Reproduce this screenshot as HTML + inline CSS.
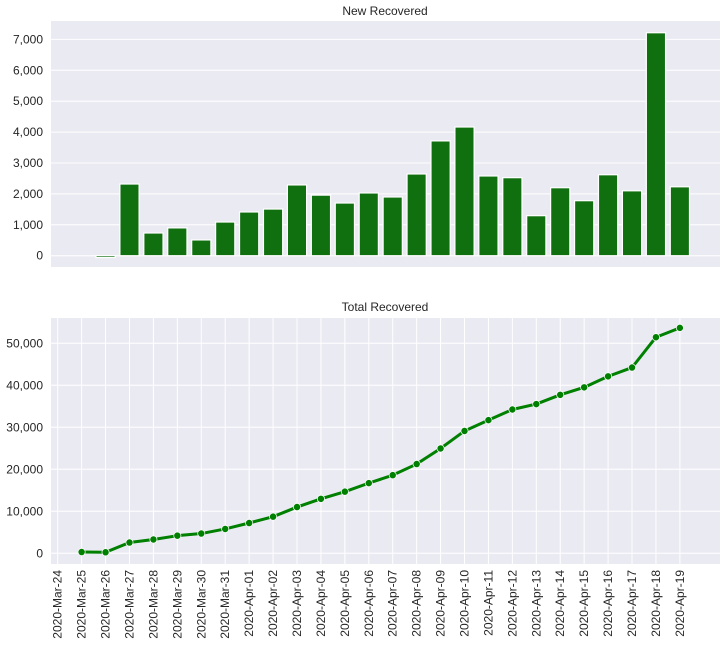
<!DOCTYPE html>
<html><head><meta charset="utf-8"><style>
body{margin:0;background:#fff;font-family:"Liberation Sans",Arial,sans-serif}
svg text{font-family:"Liberation Sans",Arial,sans-serif;fill:#262626}
</style></head><body>
<svg id="c" width="727" height="644" xmlns="http://www.w3.org/2000/svg"></svg>
<script>
const dates=["2020-Mar-24","2020-Mar-25","2020-Mar-26","2020-Mar-27","2020-Mar-28","2020-Mar-29","2020-Mar-30","2020-Mar-31","2020-Apr-01","2020-Apr-02","2020-Apr-03","2020-Apr-04","2020-Apr-05","2020-Apr-06","2020-Apr-07","2020-Apr-08","2020-Apr-09","2020-Apr-10","2020-Apr-11","2020-Apr-12","2020-Apr-13","2020-Apr-14","2020-Apr-15","2020-Apr-16","2020-Apr-17","2020-Apr-18","2020-Apr-19"];
const newRecovered=[null,null,-60,2320,735,900,510,1090,1415,1510,2290,1960,1705,2030,1900,2645,3715,4165,2580,2525,1295,2200,1780,2620,2100,7215,2230];
const totalRecovered=[null,300,240,2560,3295,4195,4705,5795,7210,8720,11010,12970,14675,16705,18605,21250,24965,29130,31710,34235,35530,37730,39510,42130,44230,51445,53675];
const newTicks=[0,1000,2000,3000,4000,5000,6000,7000];
const totalTicks=[0,10000,20000,30000,40000,50000];

const svg=document.getElementById('c');const NS='http://www.w3.org/2000/svg';
function mk(t,a,p){const e=document.createElementNS(NS,t);for(const k in a)e.setAttribute(k,a[k]);(p||svg).appendChild(e);return e;}
const L=51,R=720;
const x=i=>57.7+i*23.93;
const yTop=v=>255.7-v*0.03090;
const yBot=v=>553.3-v*0.0042;
const fmt=v=>v.toLocaleString('en-US');

// top panel
const g1=mk('g',{});


mk('rect',{x:L,y:21,width:R-L,height:246,fill:'#eaeaf2'},g1);
newTicks.forEach(v=>{
  mk('line',{x1:L,x2:R,y1:yTop(v),y2:yTop(v),stroke:'#fff','stroke-width':1},g1);
  const t=mk('text',{x:L-8,y:yTop(v)+4,'text-anchor':'end','font-size':12},g1);t.textContent=fmt(v);
  
  
});
newRecovered.forEach((v,i)=>{
  if(v===null)return;
  const y0=yTop(0),y1=yTop(v);
  const r=mk('rect',{x:x(i)-9.6,y:Math.min(y0,y1),width:19.2,height:Math.max(Math.abs(y1-y0),0.5),fill:'#107010',stroke:'#fff','stroke-width':1.2},g1);
  
  
});
const t1=mk('text',{x:385,y:15,'text-anchor':'middle','font-size':12},g1);t1.textContent='New Recovered';



// bottom panel
const g2=mk('g',{});


mk('rect',{x:L,y:318,width:R-L,height:246,fill:'#eaeaf2'},g2);
totalTicks.forEach(v=>{
  mk('line',{x1:L,x2:R,y1:yBot(v),y2:yBot(v),stroke:'#fff','stroke-width':1},g2);
  const t=mk('text',{x:L-8,y:yBot(v)+4,'text-anchor':'end','font-size':12},g2);t.textContent=fmt(v);
  
  
});
dates.forEach((d,i)=>{
  mk('line',{x1:x(i),x2:x(i),y1:318,y2:564,stroke:'#fff','stroke-width':1},g2);
  const t=mk('text',{x:0,y:0,'text-anchor':'end','font-size':12,transform:`translate(${x(i)+4},570) rotate(-90)`},g2);t.textContent=d;
  
  
});
let pts=[];totalRecovered.forEach((v,i)=>{if(v!==null)pts.push(x(i)+','+yBot(v));});
const pl=mk('polyline',{points:pts.join(' '),fill:'none',stroke:'#008000','stroke-width':3,'stroke-linejoin':'round'},g2);


totalRecovered.forEach((v,i)=>{
  if(v===null)return;
  const c=mk('circle',{cx:x(i),cy:yBot(v),r:3.6,fill:'#008000',stroke:'#fff','stroke-width':0.7},g2);
  
  
});
const t2=mk('text',{x:385,y:311,'text-anchor':'middle','font-size':12},g2);t2.textContent='Total Recovered';


</script>
</body></html>
